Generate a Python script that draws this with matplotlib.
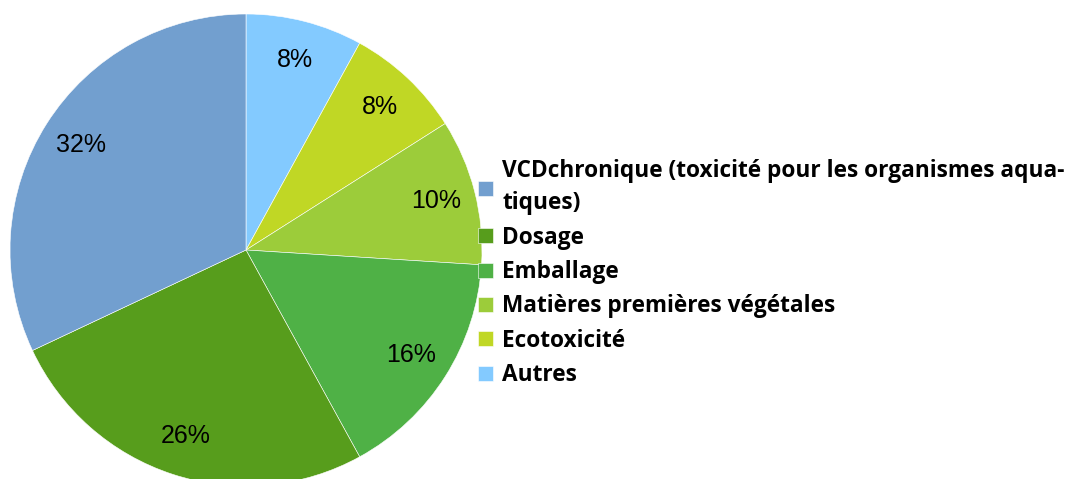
import matplotlib
matplotlib.use("Agg")
from matplotlib import pyplot as plt

labels = ["VCDchronique (toxicité pour les organismes aqua-\ntiques)",
          "Dosage", "Emballage", "Matières premières végétales",
          "Ecotoxicité", "Autres"]
shares = [32, 26, 16, 10, 8, 8]
colors = ["#729fcf", "#579d1c", "#4fb146", "#9ccc3a", "#c0d725", "#83caff"]

W, H = 1084, 479
fig = plt.figure(figsize=(W / 100, H / 100), dpi=100)

# pie centre (246, 250) px, radius 236 px
cx, cy, r = 246, 250, 236
ax = fig.add_axes([(cx - r) / W, (H - cy - r) / H, 2 * r / W, 2 * r / H])
ax.axis("off")

# drawn clockwise from the top, starting with the last slice
order = list(range(len(shares)))[::-1]
wedges, texts, autotexts = ax.pie(
    [shares[i] for i in order],
    colors=[colors[i] for i in order],
    startangle=90, counterclock=False, radius=1,
    autopct="%d%%", pctdistance=0.83,
    wedgeprops=dict(edgecolor="white", linewidth=0.4),
    textprops=dict(family="Liberation Sans", fontsize=18, color="black"),
)
ax.set_xlim(-1, 1)
ax.set_ylim(-1, 1)

handles = [wedges[order.index(i)] for i in range(len(shares))]
leg = fig.legend(
    handles, labels, loc="upper left",
    bbox_to_anchor=(467 / W, 1 - 148 / H),
    frameon=False, handlelength=0.65, handleheight=0.65,
    handletextpad=0.4, labelspacing=0.46, borderpad=0,
    prop=dict(family="Open Sans", weight="bold", size=16.3),
)
for t in leg.get_texts():
    t.set_linespacing(1.44)

fig.savefig("out.png", dpi=100)
